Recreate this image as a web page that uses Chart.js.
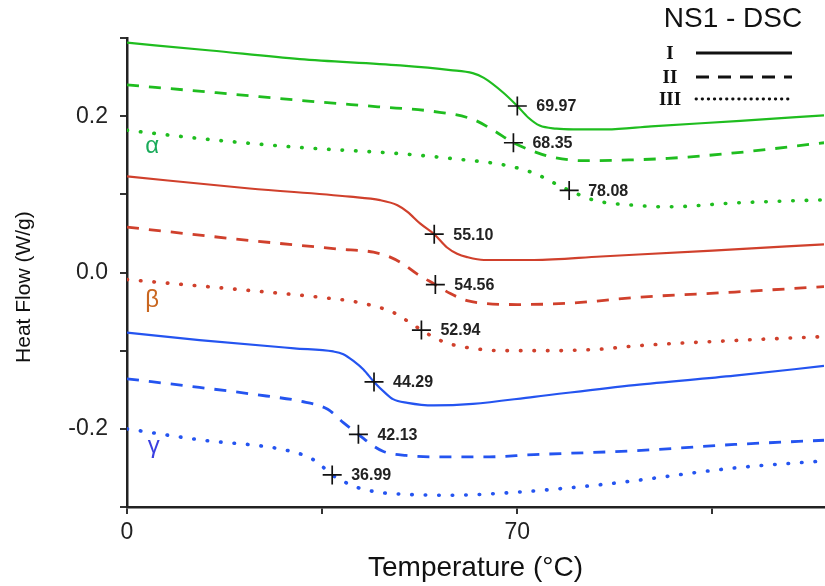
<!DOCTYPE html>
<html>
<head>
<meta charset="utf-8">
<title>NS1 - DSC</title>
<script src="https://cdn.jsdelivr.net/npm/chart.js@4.4.0/dist/chart.umd.min.js"></script>
<style>
  html, body { margin: 0; padding: 0; background: #fff; }
  canvas { display: block; }
</style>
</head>
<body>
<canvas id="dsc" width="825" height="586"></canvas>
<script>
'use strict';

// ── Data (temperature in °C, heat flow in W/g) ─────────────────────────────

var tempAlphaI   = [0, 15, 31, 49, 58, 62, 64, 67.5, 70, 72, 74, 77, 80, 86, 94, 110, 125];
var flowAlphaI   = [0.294, 0.284, 0.273, 0.265, 0.259, 0.255, 0.249, 0.230, 0.213, 0.198, 0.188, 0.184, 0.183, 0.183, 0.187, 0.194, 0.201];
var tempAlphaII  = [0, 16, 33, 45, 55, 62, 65.7, 69.3, 72.9, 76, 82, 90, 97, 109, 125];
var flowAlphaII  = [0.240, 0.230, 0.219, 0.212, 0.206, 0.196, 0.182, 0.166, 0.155, 0.148, 0.143, 0.144, 0.146, 0.153, 0.166];
var tempAlphaIII = [0, 15, 31, 49, 58, 68, 73, 77, 79.3, 84, 91, 97, 109, 125];
var flowAlphaIII = [0.182, 0.170, 0.160, 0.152, 0.146, 0.137, 0.127, 0.113, 0.105, 0.092, 0.086, 0.084, 0.089, 0.093];

var tempBetaI    = [0, 22, 40, 45.4, 48.5, 50.3, 52.6, 55.1, 57.4, 59.2, 61, 64, 73, 85, 105, 125];
var flowBetaI    = [0.123, 0.1075, 0.097, 0.0925, 0.086, 0.0775, 0.0625, 0.049, 0.032, 0.024, 0.0197, 0.016, 0.016, 0.0205, 0.028, 0.036];
var tempBetaII   = [0, 22, 38, 44.2, 47.2, 49.5, 52, 55.3, 58, 61, 64, 70, 80, 91, 109, 125];
var flowBetaII   = [0.058, 0.041, 0.030, 0.026, 0.0197, 0.011, -0.0017, -0.0155, -0.027, -0.036, -0.0394, -0.041, -0.039, -0.032, -0.025, -0.018];
var tempBetaIII  = [0, 22, 35, 41.3, 47.7, 50.3, 52.8, 55.6, 58, 62, 67, 76, 85, 91, 109, 125];
var flowBetaIII  = [-0.009, -0.023, -0.032, -0.038, -0.051, -0.062, -0.0736, -0.085, -0.0916, -0.097, -0.100, -0.100, -0.098, -0.094, -0.087, -0.082];

var tempGammaI   = [0, 13, 30, 37, 38.8, 40.6, 42.4, 44.3, 46.3, 47.7, 50.3, 55, 62, 73, 91, 109, 125];
var flowGammaI   = [-0.077, -0.0865, -0.097, -0.101, -0.1045, -0.113, -0.124, -0.140, -0.154, -0.162, -0.1667, -0.170, -0.168, -0.159, -0.144, -0.132, -0.1195];
var tempGammaII  = [0, 13, 25, 31, 36, 38.8, 41.5, 44.2, 46, 50, 56, 64, 73, 91, 109, 125];
var flowGammaII  = [-0.136, -0.147, -0.158, -0.1645, -0.175, -0.192, -0.207, -0.222, -0.229, -0.234, -0.236, -0.236, -0.233, -0.228, -0.220, -0.2146];
var tempGammaIII = [0, 13, 28, 32.8, 34.5, 36.8, 39, 41.3, 45, 49, 58, 70, 80, 88, 109, 125];
var flowGammaIII = [-0.200, -0.214, -0.2265, -0.237, -0.245, -0.259, -0.268, -0.275, -0.281, -0.2835, -0.285, -0.281, -0.275, -0.269, -0.250, -0.241];

// Glass transition markers (as placed on the plot) and their printed values
var tgLabels = ['69.97', '68.35', '78.08', '55.10', '54.56', '52.94', '44.29', '42.13', '36.99'];
var tgTemp   = [70.0, 69.3, 79.3, 55.1, 55.3, 52.8, 44.3, 41.5, 36.8];
var tgFlow   = [0.213, 0.166, 0.105, 0.049, -0.0155, -0.0736, -0.140, -0.207, -0.259];

// Axis ticks
var xTicks    = [0, 35, 70, 105];
var xLabelled = [0, 70];
var yTicks    = [-0.3, -0.2, -0.1, 0, 0.1, 0.2, 0.3];
var yLabelled = [-0.2, 0, 0.2];

// ── Styling ────────────────────────────────────────────────────────────────

var GREEN = '#1fbd1f';
var RED   = '#d0402c';
var BLUE  = '#2454f0';
var FONT  = '"Liberation Sans", Arial, sans-serif';

var LINE_STYLES = {
  I:   { borderWidth: 2.2, borderDash: [] },
  II:  { borderWidth: 2.8, borderDash: [12, 10] },
  III: { borderWidth: 3.6, borderDash: [0.5, 13], borderCapStyle: 'round' },
};

var SERIES = [
  { t: tempAlphaI,   h: flowAlphaI,   color: GREEN, style: 'I' },
  { t: tempAlphaII,  h: flowAlphaII,  color: GREEN, style: 'II' },
  { t: tempAlphaIII, h: flowAlphaIII, color: GREEN, style: 'III' },
  { t: tempBetaI,    h: flowBetaI,    color: RED,   style: 'I' },
  { t: tempBetaII,   h: flowBetaII,   color: RED,   style: 'II' },
  { t: tempBetaIII,  h: flowBetaIII,  color: RED,   style: 'III' },
  { t: tempGammaI,   h: flowGammaI,   color: BLUE,  style: 'I' },
  { t: tempGammaII,  h: flowGammaII,  color: BLUE,  style: 'II' },
  { t: tempGammaIII, h: flowGammaIII, color: BLUE,  style: 'III' },
];

// phase tags, anchored in data coordinates
var PHASE_TAGS = [
  { text: 'α', x: 4.5, y: 0.161,  color: '#1aab5a' },
  { text: 'β', x: 4.5, y: -0.036, color: '#c9661f' },
  { text: 'γ', x: 4.8, y: -0.222, color: '#3b3fe0' },
];

function pairs(xs, ys) {
  return xs.map(function (v, i) { return { x: v, y: ys[i] }; });
}

// ── Datasets ───────────────────────────────────────────────────────────────

var datasets = [{
  label: 'Tg',
  data: pairs(tgTemp, tgFlow),
  showLine: false,
  pointStyle: 'cross',
  pointRadius: 9.5,
  pointBorderWidth: 1.7,
  pointBorderColor: '#111',
  pointBackgroundColor: '#111',
}];

SERIES.forEach(function (s) {
  var st = LINE_STYLES[s.style];
  datasets.push({
    label: s.style,
    data: pairs(s.t, s.h),
    showLine: true,
    borderColor: s.color,
    backgroundColor: s.color,
    borderWidth: st.borderWidth,
    borderDash: st.borderDash,
    borderCapStyle: st.borderCapStyle || 'butt',
    cubicInterpolationMode: 'monotone',
    pointRadius: 0,
    fill: false,
  });
});

// ── Decorations: Tg values, phase tags, legend box ─────────────────────────

var decor = {
  id: 'dscDecor',
  afterDatasetsDraw: function (chart) {
    var ctx = chart.ctx;
    var x = chart.scales.x;
    var y = chart.scales.y;
    ctx.save();

    ctx.font = 'bold 16px ' + FONT;
    ctx.fillStyle = '#222';
    ctx.textAlign = 'left';
    ctx.textBaseline = 'middle';
    tgLabels.forEach(function (lab, i) {
      ctx.fillText(lab, x.getPixelForValue(tgTemp[i]) + 19, y.getPixelForValue(tgFlow[i]) + 1);
    });

    ctx.font = '24px ' + FONT;
    ctx.textAlign = 'center';
    PHASE_TAGS.forEach(function (p) {
      ctx.fillStyle = p.color;
      ctx.fillText(p.text, x.getPixelForValue(p.x), y.getPixelForValue(p.y));
    });

    // legend
    ctx.fillStyle = '#111';
    ctx.font = '28px ' + FONT;
    ctx.fillText('NS1 - DSC', 733, 19);

    var rows = [
      { name: 'I',   y: 53, dash: [],        cap: 'butt',  w: 3 },
      { name: 'II',  y: 77, dash: [13, 9],   cap: 'butt',  w: 3 },
      { name: 'III', y: 99, dash: [0.5, 5.6], cap: 'round', w: 2.8 },
    ];
    ctx.font = 'bold 19px "Liberation Serif", "Times New Roman", serif';
    rows.forEach(function (r) {
      ctx.fillStyle = '#111';
      ctx.fillText(r.name, 670, r.y + 1);
      ctx.beginPath();
      ctx.setLineDash(r.dash);
      ctx.lineCap = r.cap;
      ctx.lineWidth = r.w;
      ctx.strokeStyle = '#111';
      ctx.moveTo(696, r.y);
      ctx.lineTo(792, r.y);
      ctx.stroke();
    });

    ctx.restore();
  },
};

// ── Chart ──────────────────────────────────────────────────────────────────

Chart.defaults.font.family = FONT;

new Chart(document.getElementById('dsc'), {
  type: 'scatter',
  data: { datasets: datasets },
  plugins: [decor],
  options: {
    responsive: false,
    animation: false,
    layout: { autoPadding: false, padding: { top: 38, right: 1, left: 0, bottom: 0 } },
    plugins: {
      legend: { display: false },
      tooltip: { enabled: false },
    },
    scales: {
      x: {
        type: 'linear',
        min: 0,
        max: 125,
        afterFit: function (s) { s.height = 79; },
        afterBuildTicks: function (s) { s.ticks = xTicks.map(function (v) { return { value: v }; }); },
        ticks: {
          autoSkip: false,
          maxRotation: 0,
          padding: 5,
          color: '#222',
          font: { size: 23 },
          callback: function (v) { return xLabelled.indexOf(v) >= 0 ? String(v) : ''; },
        },
        grid: { drawOnChartArea: false, drawTicks: true, tickLength: 7, color: '#333', lineWidth: 2 },
        border: { display: true, color: '#222', width: 2.5 },
        title: {
          display: true,
          text: 'Temperature (°C)',
          color: '#111',
          font: { size: 28 },
          padding: { top: 0, bottom: 1 },
        },
      },
      y: {
        type: 'linear',
        min: -0.3,
        max: 0.3,
        afterFit: function (s) { s.width = 127; },
        afterBuildTicks: function (s) { s.ticks = yTicks.map(function (v) { return { value: v }; }); },
        ticks: {
          autoSkip: false,
          padding: 12,
          color: '#222',
          font: { size: 23 },
          callback: function (v) {
            var hit = yLabelled.some(function (l) { return Math.abs(l - v) < 1e-9; });
            return hit ? v.toFixed(1) : '';
          },
        },
        grid: { drawOnChartArea: false, drawTicks: true, tickLength: 7, color: '#333', lineWidth: 2 },
        border: { display: true, color: '#222', width: 2.5 },
        title: {
          display: true,
          // trailing spaces push the rotated title a little below the axis centre, as in the source figure
          text: 'Heat Flow (W/g)\u00a0\u00a0\u00a0\u00a0\u00a0',
          color: '#111',
          font: { size: 21 },
          padding: { top: 12, bottom: 0 },
        },
      },
    },
  },
});
</script>
</body>
</html>
